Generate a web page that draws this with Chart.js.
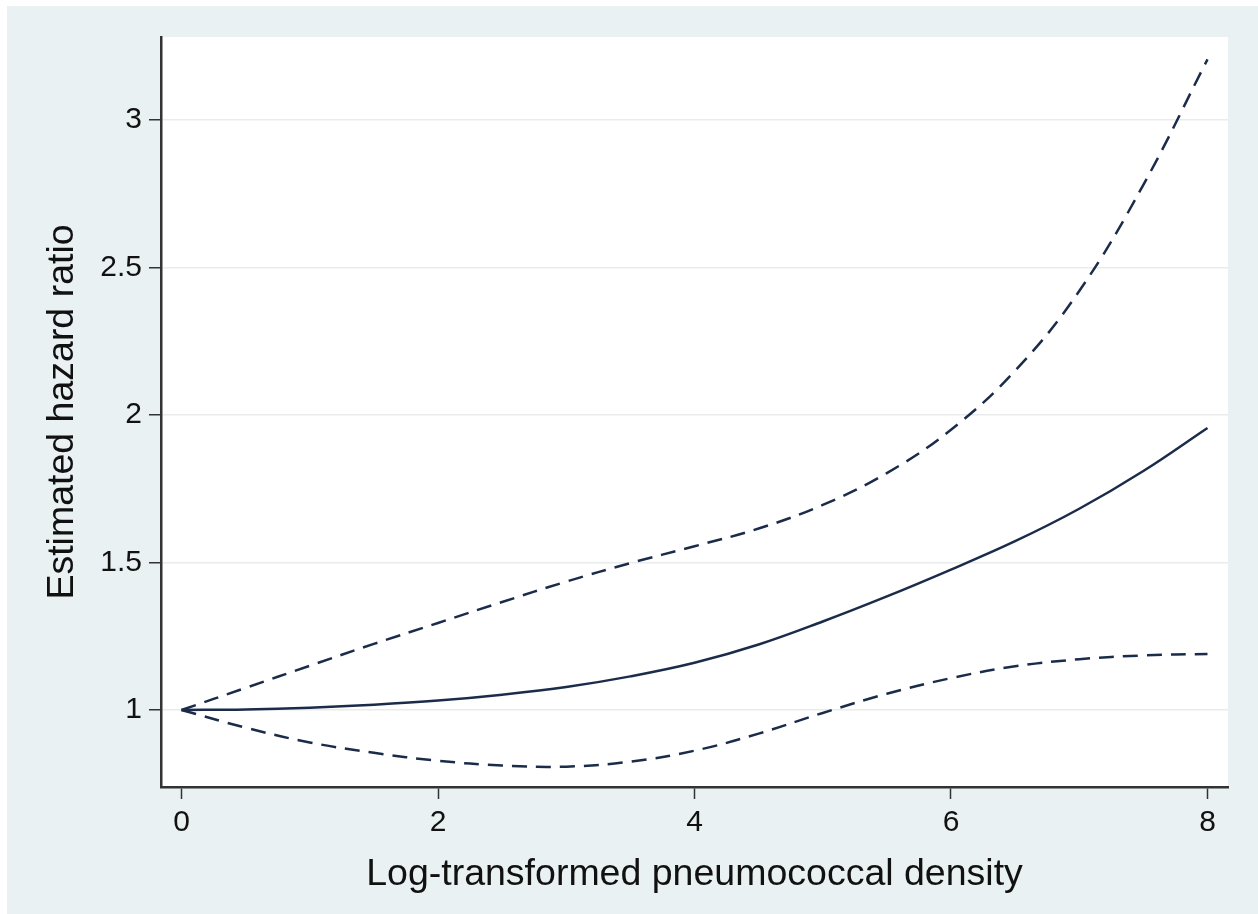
<!DOCTYPE html>
<html>
    <head>
        <meta charset="utf-8">
        <title>Estimated hazard ratio</title>
        <script src="https://cdn.jsdelivr.net/npm/chart.js@4.4.1/dist/chart.umd.min.js"></script>
        <style>
            html, body { margin: 0; padding: 0; background: #eaf1f3; overflow: hidden; }
            #canvas { display: block; width: 1258px; height: 914px; }
        </style>
    </head>
    <body>
        <canvas id="canvas" width="1258" height="914"></canvas>
        <script>
    // values
    var density = [0, 0.5, 1, 1.5, 2, 2.5, 3, 3.5, 4, 4.5, 5, 5.5, 6, 6.5, 7, 7.5, 8];
    var hazard = [1.000, 1.002, 1.008, 1.018, 1.032, 1.052, 1.078, 1.114, 1.160, 1.222, 1.300, 1.385, 1.476, 1.572, 1.682, 1.810, 1.956];
    var upper  = [1.000, 1.075, 1.150, 1.224, 1.295, 1.366, 1.435, 1.498, 1.555, 1.615, 1.695, 1.803, 1.950, 2.150, 2.420, 2.780, 3.205];
    var lower  = [1.000, 0.940, 0.890, 0.855, 0.828, 0.812, 0.808, 0.825, 0.862, 0.920, 0.990, 1.055, 1.108, 1.148, 1.172, 1.185, 1.190];

    var xTicks = [0, 2, 4, 6, 8];
    var yTicks = [1, 1.5, 2, 2.5, 3];

    var lineColor = '#1b2c4a';

    function points(values) {
        return density.map(function (d, i) { return {x: d, y: values[i]}; });
    }

    // stata style backdrop: blue-grey outer region, white plot region
    var backdrop = {
        id: 'backdrop',
        beforeDraw: function (chart) {
            var c = chart.ctx, a = chart.chartArea;
            c.save();
            c.fillStyle = '#eaf1f3';
            c.fillRect(0, 0, chart.width, chart.height);
            c.fillStyle = '#ffffff';
            c.fillRect(0, 0, chart.width, 6);
            c.fillRect(0, 0, 7, chart.height);
            c.fillRect(a.left, a.top, a.right - a.left, a.bottom - a.top);
            c.restore();
        }
    };

    var tickFont = {family: 'Liberation Sans, Arial, sans-serif', size: 30};
    var titleFont = {family: 'Liberation Sans, Arial, sans-serif', size: 37.5, lineHeight: 1.2};

    var ctx = document.getElementById('canvas').getContext('2d');
    var config = {
        type: 'line',
        data: {
            datasets: [{
                label: 'upper',
                data: points(upper),
                borderColor: lineColor,
                borderWidth: 2.5,
                borderDash: [15, 9],
                pointRadius: 0,
                tension: 0.4
            },
            {
                label: 'hazard ratio',
                data: points(hazard),
                borderColor: lineColor,
                borderWidth: 2.5,
                pointRadius: 0,
                tension: 0.4
            },
            {
                label: 'lower',
                data: points(lower),
                borderColor: lineColor,
                borderWidth: 2.5,
                borderDash: [15, 9],
                pointRadius: 0,
                tension: 0.4
            }]
        },
        options: {
            responsive: false,
            animation: false,
            layout: {padding: {top: 37, right: 30, left: 0, bottom: 0}},
            plugins: {
                legend: {display: false},
                tooltip: {enabled: false}
            },
            scales: {
                x: {
                    type: 'linear',
                    min: -0.16,
                    max: 8.16,
                    afterBuildTicks: function (scale) {
                        scale.ticks = xTicks.map(function (v) { return {value: v}; });
                    },
                    afterFit: function (scale) { scale.height = 127; },
                    grid: {drawOnChartArea: false, drawTicks: true, tickLength: 12, tickColor: '#333333', tickWidth: 1.5},
                    border: {color: '#333333', width: 2.5},
                    ticks: {font: tickFont, color: '#111111', padding: 6, maxRotation: 0,
                        callback: function (v) { return String(v); }},
                    title: {display: true, text: 'Log-transformed pneumococcal density', font: titleFont, color: '#111111', padding: {top: 0, bottom: 17}}
                },
                y: {
                    type: 'linear',
                    min: 0.739,
                    max: 3.281,
                    afterBuildTicks: function (scale) {
                        scale.ticks = yTicks.map(function (v) { return {value: v}; });
                    },
                    afterFit: function (scale) { scale.width = 161; },
                    grid: {color: '#e9ebec', lineWidth: 1.5, drawTicks: true, tickLength: 12, tickColor: '#333333', tickWidth: 1.5},
                    border: {color: '#333333', width: 2.5},
                    ticks: {font: tickFont, color: '#111111', padding: 7,
                        callback: function (v) { return String(v); }},
                    title: {display: true, text: 'Estimated hazard ratio', font: titleFont, color: '#111111', padding: {top: 40, bottom: 0}}
                }
            }
        },
        plugins: [backdrop]
    };

    var chart = new Chart(ctx, config);
        </script>
    </body>
</html>
